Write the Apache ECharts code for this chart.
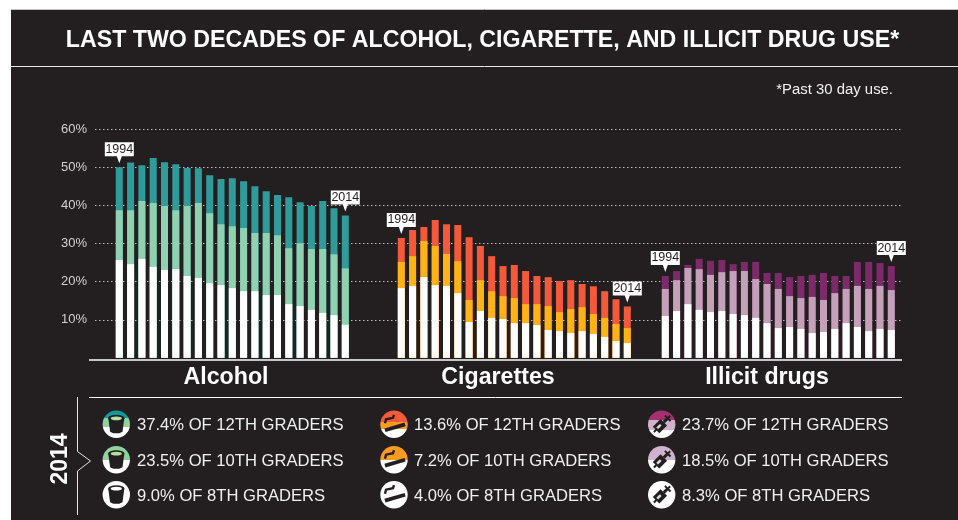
<!DOCTYPE html>
<html><head><meta charset="utf-8">
<style>html,body{margin:0;padding:0;background:#fff}#c{width:958px;height:520px}</style>
<script src="https://cdn.jsdelivr.net/npm/echarts@6/dist/echarts.min.js"></script>
</head><body><div id="c"></div>
<script>
const years = ['1994','1995','1996','1997','1998','1999','2000','2001','2002','2003','2004','2005','2006','2007','2008','2009','2010','2011','2012','2013','2014'];
const yTickLabels = ['10%','20%','30%','40%','50%','60%'];

const alcohol12 = [50.1,51.3,50.6,52.5,51.4,50.9,49.9,49.8,48.0,47.0,47.2,46.4,45.1,43.8,42.8,42.2,40.9,39.9,41.2,39.3,37.4];
const alcohol10 = [38.8,38.8,41.2,40.7,39.9,38.8,39.9,40.7,38.0,35.1,34.6,34.1,32.8,32.8,32.2,28.8,30.1,28.6,28.6,27.2,23.5];
const alcohol8  = [25.7,24.6,26.0,23.9,23.1,23.3,21.5,21.0,19.6,19.1,18.3,17.5,17.5,16.5,16.5,14.1,13.6,12.6,11.8,11.2,8.7];

const cigarettes12 = [31.5,33.6,34.4,36.2,35.1,34.9,31.7,29.4,26.7,24.1,24.4,22.8,21.5,21.2,20.2,20.4,19.4,18.8,17.5,15.4,13.5];
const cigarettes10 = [25.2,26.7,30.7,29.4,27.3,25.4,15.2,20.4,17.5,16.2,15.7,14.1,14.1,13.6,12.0,12.8,13.3,11.5,10.5,8.9,7.8];
const cigarettes8  = [18.3,18.9,21.2,19.1,18.9,17.0,9.4,12.3,10.5,10.2,9.1,9.1,8.6,7.3,7.0,6.5,7.0,6.3,5.5,4.4,3.9];

const illicit12 = [21.5,22.8,24.4,26.0,25.5,25.7,24.6,25.2,25.2,22.3,22.3,21.2,21.5,21.8,22.3,21.5,21.5,25.2,25.2,24.9,24.1];
const illicit10 = [18.1,20.4,23.6,23.3,21.8,22.5,22.8,22.8,20.7,19.4,18.1,16.2,15.7,16.0,15.2,17.0,18.1,18.9,18.1,18.9,17.8];
const illicit8  = [11.0,12.3,14.1,12.6,12.0,12.3,11.5,11.2,10.5,9.1,7.8,8.1,7.6,6.5,6.8,7.6,9.1,8.1,7.0,7.6,7.3];

const alcoholLegend = ['37.4% OF 12TH GRADERS','23.5% OF 10TH GRADERS','9.0% OF 8TH GRADERS'];
const cigarettesLegend = ['13.6% OF 12TH GRADERS','7.2% OF 10TH GRADERS','4.0% OF 8TH GRADERS'];
const illicitLegend = ['23.7% OF 12TH GRADERS','18.5% OF 10TH GRADERS','8.3% OF 8TH GRADERS'];

const FONT = '"Liberation Sans", Arial, sans-serif';
const BG = '#231f20', WHITE = '#ffffff', TXT = '#f0efef';
const BAND = 11.3, TOP = 129.5, H = 228.3;

const panels = [
  {left:119.3-BAND/2, d:[alcohol12,alcohol10,alcohol8], c:['#2f9b9b','#90d1b1',WHITE]},
  {left:401.3-BAND/2, d:[cigarettes12,cigarettes10,cigarettes8], c:['#f45a3a','#feb414',WHITE]},
  {left:665.3-BAND/2, d:[illicit12,illicit10,illicit8], c:['#7c2a69','#c2a1b9',WHITE]}
];

const grids = [{left:95,right:56,top:TOP,height:H}];
const xAxes = [{gridIndex:0,type:'category',data:years,show:false}];
const yAxes = [{gridIndex:0,type:'value',min:0,max:60,interval:10,
  axisLine:{show:false},axisTick:{show:false},
  axisLabel:{show:true,showMinLabel:false,margin:8,color:'#d2d1d1',fontFamily:FONT,fontSize:13,
    formatter:v=>yTickLabels[v/10-1]||''},
  splitLine:{show:true,showMinLine:false,lineStyle:{color:'#bdbcbc',width:1.2,type:[1.5,2.5]}}}];
const series = [];
const pinPath = 'path://M0 0H29V14H17L14.5 21L12 14H0Z';
panels.forEach((p,i)=>{
  const g=i+1;
  grids.push({left:p.left,top:TOP,width:BAND*21,height:H});
  xAxes.push({gridIndex:g,type:'category',data:years,show:false});
  yAxes.push({gridIndex:g,type:'value',min:0,max:60,interval:10,show:false,splitLine:{show:false}});
  p.d.forEach((vals,k)=>{
    const s={type:'bar',xAxisIndex:g,yAxisIndex:g,data:vals,barWidth:7,barGap:'-100%',
      itemStyle:{color:p.c[k]},z:3+k,silent:true,animation:false};
    if(k===0){
      s.markPoint={animation:false,silent:true,symbol:pinPath,symbolSize:[29,21],symbolKeepAspect:false,
        symbolOffset:[0,-14.5],itemStyle:{color:WHITE},
        label:{show:true,position:'inside',offset:[0,-3.5],formatter:'{b}',color:BG,fontFamily:FONT,fontSize:12.5},
        data:[{name:years[0],coord:[years[0],vals[0]]},{name:years[20],coord:[years[20],vals[20]]}]};
    }
    series.push(s);
  });
});

function bandFill(stops){
  const cs=[];let prev=0;
  stops.forEach(([col,end])=>{cs.push({offset:prev,color:col},{offset:end,color:col});prev=end;});
  return {type:'linear',x:0,y:0,x2:0,y2:1,colorStops:cs};
}
function cup(inner){return [
  {type:'polygon',shape:{points:[[-8,-6],[-6.2,7.5],[-3,9],[3,9],[6.2,7.5],[8,-6]]},style:{fill:BG}},
  {type:'circle',scaleY:0.42,y:-6,shape:{cx:0,cy:0,r:8.2},style:{fill:BG}},
  {type:'circle',scaleY:0.34,y:-6,shape:{cx:0,cy:0,r:5.6},style:{fill:inner}}
];}
function cig(){return [
  {type:'rect',rotation:0.28,x:1,y:3,shape:{x:-10.5,y:-1.9,width:21,height:3.8},style:{fill:BG}},
  {type:'polyline',shape:{points:[[-9,-1],[-8,-5],[-1,-6.5],[0,-9.5]]},style:{stroke:BG,lineWidth:2.4,fill:null}}
];}
function syringe(){return [
  {type:'group',rotation:Math.PI/4,children:[
    {type:'rect',shape:{x:-8,y:-4.6,width:11,height:9.2},style:{fill:BG}},
    {type:'rect',shape:{x:-6,y:-1.6,width:5,height:2.4},style:{fill:'rgba(255,255,255,0.85)'}},
    {type:'rect',shape:{x:-11,y:-1,width:3.5,height:2},style:{fill:BG}},
    {type:'rect',shape:{x:3,y:-1.5,width:5,height:3},style:{fill:BG}},
    {type:'rect',shape:{x:7.5,y:-4,width:2,height:8},style:{fill:BG}},
    {type:'rect',shape:{x:9,y:-1,width:3,height:2},style:{fill:BG}}
  ]}
];}

const rowsY=[424.3,459.7,494.7];
const legendCols=[
  {x:116.3,tx:137,labels:alcoholLegend,glyph:cup,inner:['#b7e0a0','#b7e0a0',WHITE],
   fills:[[['#0f9a9c',.28],['#90d1a0',.6],[WHITE,1]],[['#90d1a0',.52],[WHITE,1]],[[WHITE,1]]]},
  {x:394,tx:414,labels:cigarettesLegend,glyph:cig,inner:[],
   fills:[[['#f45a3a',.4],['#fd9b1e',.68],[WHITE,1]],[['#fd9b1e',.52],[WHITE,1]],[[WHITE,1]]]},
  {x:661.7,tx:682,labels:illicitLegend,glyph:syringe,inner:[],
   fills:[[['#a5306f',.33],['#cfb2cd',.7],[WHITE,1]],[['#cfb2cd',.52],[WHITE,1]],[[WHITE,1]]]}
];
const graphics=[
  {type:'rect',z:-10,shape:{x:11,y:9,width:947,height:511},style:{fill:BG}},
  {type:'line',z:-9,shape:{x1:11,y1:9.5,x2:958,y2:9.5},style:{stroke:'#c4c4c4',lineWidth:1}},
  {type:'line',shape:{x1:11,y1:66.5,x2:958,y2:66.5},style:{stroke:'#e6e6e6',lineWidth:1}},
  {type:'text',x:482.5,y:40.5,style:{text:'LAST TWO DECADES OF ALCOHOL, CIGARETTE, AND ILLICIT DRUG USE*',
    fill:WHITE,font:'bold 23.2px '+FONT,align:'center',verticalAlign:'middle'}},
  {type:'text',x:893,y:89.5,style:{text:'*Past 30 day use.',fill:TXT,font:'14.9px '+FONT,align:'right',verticalAlign:'middle'}},
  {type:'line',shape:{x1:89,y1:360,x2:902,y2:360},style:{stroke:WHITE,lineWidth:1.3}},
  {type:'line',shape:{x1:89,y1:397.5,x2:902,y2:397.5},style:{stroke:WHITE,lineWidth:1}},
  {type:'text',x:226,y:378,style:{text:'Alcohol',fill:WHITE,font:'bold 23.2px '+FONT,align:'center',verticalAlign:'middle'}},
  {type:'text',x:498,y:378,style:{text:'Cigarettes',fill:WHITE,font:'bold 23.2px '+FONT,align:'center',verticalAlign:'middle'}},
  {type:'text',x:767,y:378,style:{text:'Illicit drugs',fill:WHITE,font:'bold 23.2px '+FONT,align:'center',verticalAlign:'middle'}},
  {type:'polyline',shape:{points:[[77.5,397],[77.5,451.5],[90.5,461],[77.5,471],[77.5,515]]},style:{stroke:'#e6e6e6',lineWidth:1,fill:null}},
  {type:'text',x:60.5,y:459,rotation:Math.PI/2,style:{text:'2014',fill:WHITE,font:'bold 23px '+FONT,align:'center',verticalAlign:'middle'}}
];
legendCols.forEach(col=>{
  col.labels.forEach((t,r)=>{
    graphics.push({type:'group',x:col.x,y:rowsY[r],children:[
      {type:'circle',shape:{cx:0,cy:0,r:13.7},style:{fill:bandFill(col.fills[r])}}
    ].concat(col.glyph(col.inner[r]))});
    graphics.push({type:'text',x:col.tx,y:rowsY[r]+1.5,style:{text:t,fill:TXT,font:'16.6px '+FONT,align:'left',verticalAlign:'middle'}});
  });
});

const chart=echarts.init(document.getElementById('c'),null,{renderer:'canvas'});
chart.setOption({animation:false,backgroundColor:'#ffffff',tooltip:{show:false},legend:{show:false},
  grid:grids,xAxis:xAxes,yAxis:yAxes,series:series,graphic:{elements:graphics}});
</script></body></html>
